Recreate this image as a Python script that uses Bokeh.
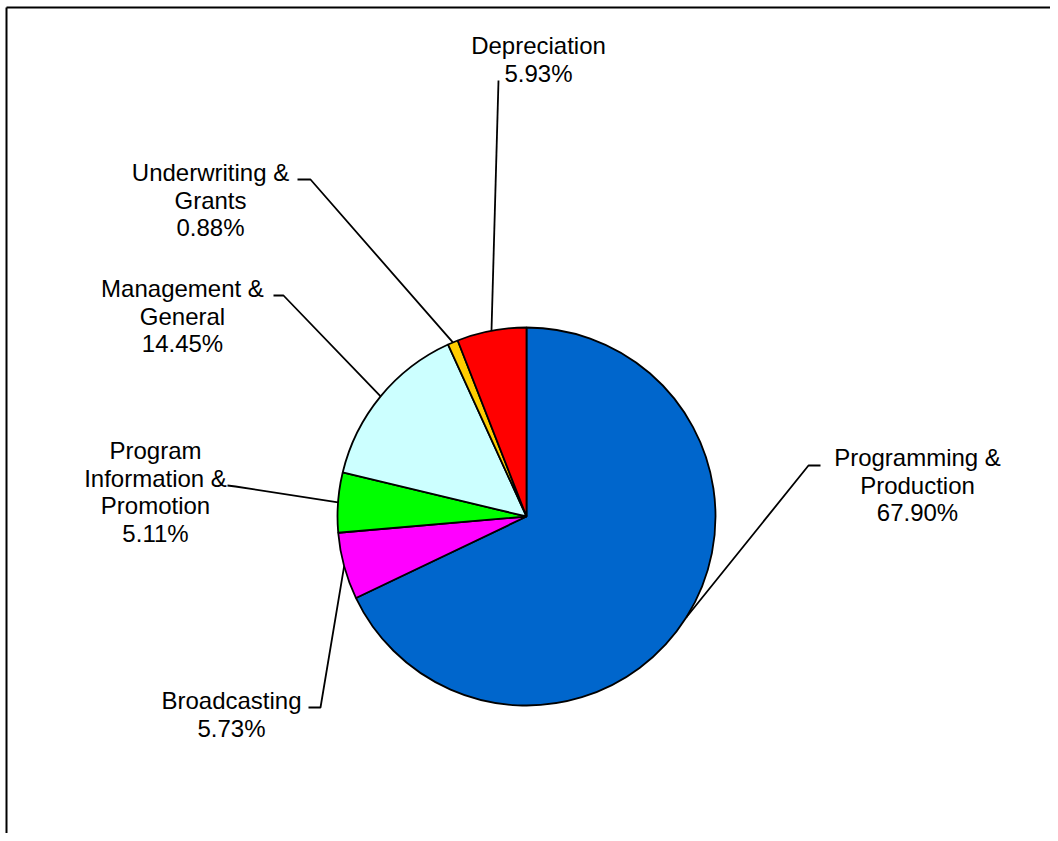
import math
from bokeh.plotting import figure
from bokeh.models import Range1d, ColumnDataSource
from bokeh.core.properties import value
from bokeh.embed import file_html
from bokeh.resources import INLINE

# ---- data ----
categories = ["Programming & Production", "Broadcasting", "Program Information & Promotion",
              "Management & General", "Underwriting & Grants", "Depreciation"]
shares = [67.90, 5.73, 5.11, 14.45, 0.88, 5.93]
label_lines = [["Programming &", "Production"], ["Broadcasting"],
               ["Program", "Information &", "Promotion"], ["Management &", "General"],
               ["Underwriting &", "Grants"], ["Depreciation"]]
colors = ["#0066CC", "#FF00FF", "#00FF00", "#CCFFFF", "#FFCC00", "#FF0000"]

# ---- layout (picture pixel coordinates) ----
W, H = 1050, 833
def Y(py):
    return H - py

CX, CY, R = 526, 516, 189
label_cx = [917, 231, 155, 182, 210, 538]
label_base = [457, 700, 450, 288, 172, 45]
line_gap = 27.5
# leader elbow points (from label side toward the pie)
leader_pts = [
    [(820, 465), (808, 465)],
    [(308, 707), (320, 707)],
    [(227, 485), (235, 486)],
    [(273, 295), (283, 295)],
    [(297, 179), (310, 179)],
    [(498, 80)],
]

p = figure(width=W, height=H, x_range=Range1d(0, W), y_range=Range1d(0, H),
           output_backend="svg", toolbar_location=None, min_border=0,
           x_axis_location=None, y_axis_location=None,
           outline_line_color=None, background_fill_color="white",
           border_fill_color="white")
p.grid.visible = False

# frame (left and top edges)
p.line([6, 6], [0, Y(7)], line_color="black", line_width=2)
p.line([6, W], [Y(7), Y(7)], line_color="black", line_width=2)

# wedges
total = sum(shares)
starts, ends, mids = [], [], []
cum = 0.0
for v in shares:
    a0 = math.pi / 2 - 2 * math.pi * cum / total
    cum += v
    a1 = math.pi / 2 - 2 * math.pi * cum / total
    starts.append(a0)
    ends.append(a1)
    mids.append((a0 + a1) / 2)

src = ColumnDataSource(dict(start=starts, end=ends, color=colors, cat=categories))
p.wedge(x=CX, y=Y(CY), radius=R, start_angle="start", end_angle="end",
        direction="clock", fill_color="color", line_color="black", line_width=1.8,
        source=src)

# leader lines
xs, ys = [], []
for i, m in enumerate(mids):
    ex = CX + R * math.cos(m)
    ey = Y(CY) + R * math.sin(m)
    pts = leader_pts[i]
    xs.append([q[0] for q in pts] + [ex])
    ys.append([Y(q[1]) for q in pts] + [ey])
p.multi_line(xs, ys, line_color="black", line_width=1.8)

# labels
tx, ty, tt = [], [], []
for i, lines in enumerate(label_lines):
    all_lines = lines + [f"{shares[i]:.2f}%"]
    for k, t in enumerate(all_lines):
        tx.append(label_cx[i])
        ty.append(Y(label_base[i] + k * line_gap))
        tt.append(t)
p.text(tx, ty, text=tt, text_align="center", text_baseline="alphabetic",
       text_font=value("Liberation Sans"), text_font_size="24px", text_color="black")

open("out.html", "w").write(file_html(p, INLINE))
